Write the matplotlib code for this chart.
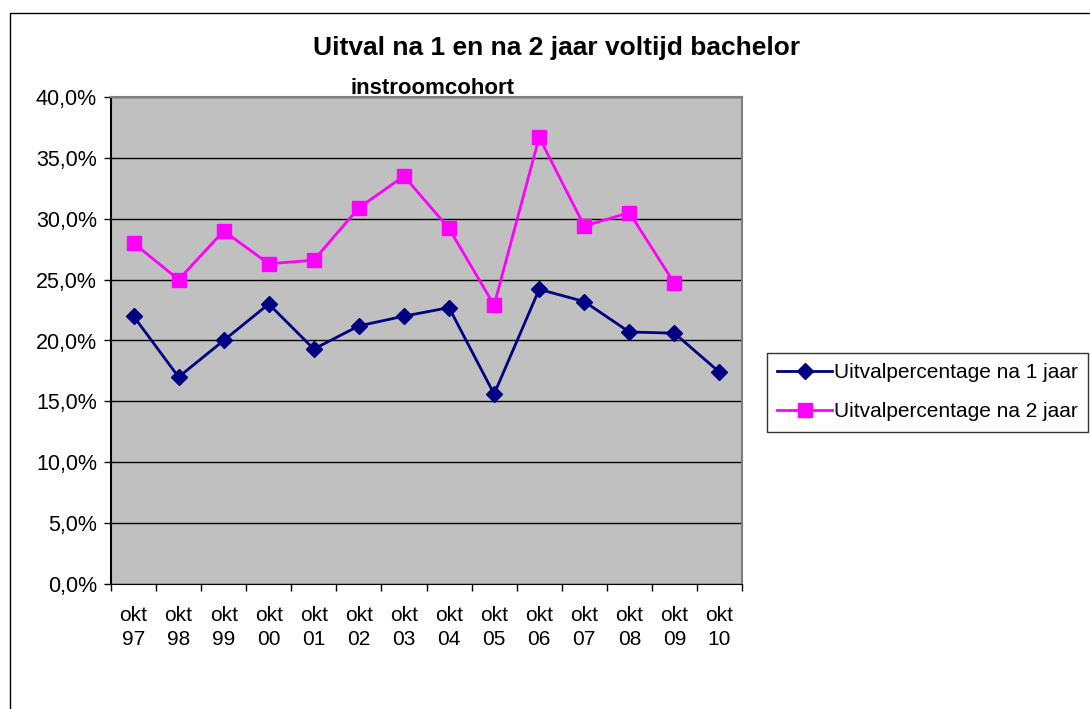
import matplotlib
matplotlib.use('Agg')
import matplotlib.pyplot as plt
import numpy as np
from matplotlib.patches import Rectangle
from matplotlib.ticker import FuncFormatter, FixedLocator

plt.rcParams['font.family'] = ['Liberation Sans', 'DejaVu Sans']

cohorts = ['okt\n97', 'okt\n98', 'okt\n99', 'okt\n00', 'okt\n01', 'okt\n02', 'okt\n03',
           'okt\n04', 'okt\n05', 'okt\n06', 'okt\n07', 'okt\n08', 'okt\n09', 'okt\n10']
uitval_1jaar = [22.0, 17.0, 20.0, 23.0, 19.3, 21.2, 22.0, 22.7, 15.6, 24.2, 23.2, 20.7, 20.6, 17.4]
uitval_2jaar = [28.0, 25.0, 29.0, 26.3, 26.6, 30.9, 33.5, 29.2, 22.9, 36.7, 29.4, 30.5, 24.7, np.nan]

W, H = 1090, 709
fig = plt.figure(figsize=(W / 100, H / 100), dpi=100)

# outer chart frame
fig.patches.append(Rectangle((10 / W, -0.1), 1.2, 1 - 13 / H + 0.1, transform=fig.transFigure,
                             fill=False, edgecolor='black', linewidth=1.0))

left, right, top, bottom = 111, 742, 97, 584
ax = fig.add_axes([left / W, 1 - bottom / H, (right - left) / W, (bottom - top) / H])
ax.set_facecolor('#C0C0C0')

x = np.arange(len(cohorts))
ax.plot(x, uitval_1jaar, color='#000080', marker='D', markersize=8, linewidth=2,
        label='Uitvalpercentage na 1 jaar')
ax.plot(x, uitval_2jaar, color='#FF00FF', marker='s', markersize=10, linewidth=2,
        label='Uitvalpercentage na 2 jaar')

ax.set_xlim(-0.5, len(cohorts) - 0.5)
ax.set_ylim(0, 40)
ax.set_yticks(np.arange(0, 41, 5))
ax.yaxis.set_major_formatter(FuncFormatter(lambda v, p: f'{v:.1f}%'.replace('.', ',')))
ax.yaxis.grid(True, color='black', linewidth=1)
ax.set_axisbelow(True)

ax.set_xticks(x)
ax.set_xticklabels(cohorts, fontsize=15, linespacing=1.35)
ax.xaxis.set_minor_locator(FixedLocator(np.arange(-0.5, len(cohorts), 1)))
ax.tick_params(axis='x', which='major', length=0, pad=16)
ax.tick_params(axis='x', which='minor', length=5, color='black', width=1)
ax.tick_params(axis='y', length=5, color='black', width=1, labelsize=15.5, pad=5)

for s in ['top', 'right']:
    ax.spines[s].set_color('#808080')
    ax.spines[s].set_linewidth(1.5)
ax.spines['left'].set_color('black')
ax.spines['bottom'].set_color('black')
ax.spines['left'].set_linewidth(1.5)

fig.text(557 / W, 1 - 48 / H, 'Uitval na 1 en na 2 jaar voltijd bachelor', ha='center',
         va='center', fontsize=19, fontweight='bold')
fig.text(432 / W, 1 - 88 / H, 'instroomcohort', ha='center', va='center',
         fontsize=16, fontweight='bold')

leg = fig.legend(loc='upper left', bbox_to_anchor=(767 / W, 1 - 353 / H), fontsize=15,
                 frameon=True, fancybox=False, edgecolor='black', borderpad=0.5,
                 handlelength=2.6, handletextpad=0.1, labelspacing=0.95, borderaxespad=0)
leg.get_frame().set_linewidth(1)

fig.savefig('out.png', dpi=100)
